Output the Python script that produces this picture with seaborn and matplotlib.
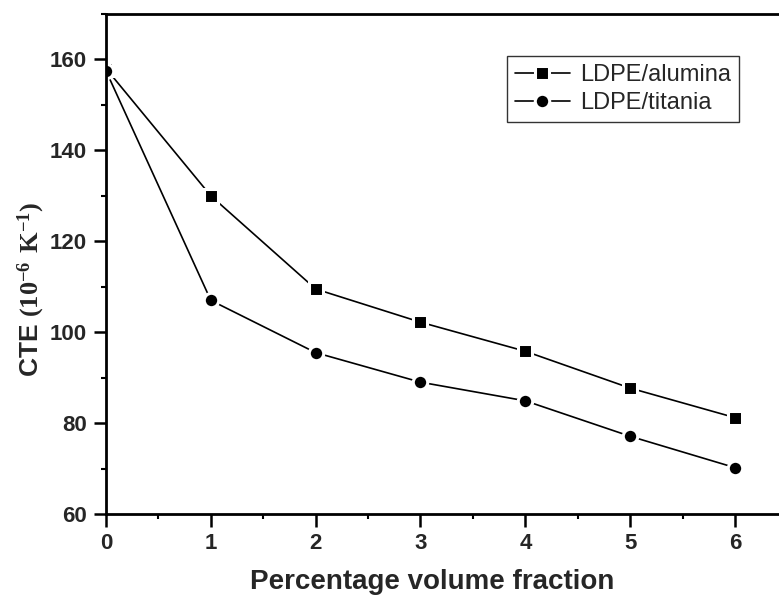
import matplotlib
matplotlib.use("Agg")
import matplotlib.pyplot as plt
from matplotlib.ticker import MultipleLocator
import pandas as pd
import seaborn as sns

# Thermal expansion of LDPE composites versus filler loading
volume_fraction = [0, 1, 2, 3, 4, 5, 6]
cte_alumina = [158.0, 130.0, 109.5, 102.2, 95.8, 87.7, 81.2]
cte_titania = [157.5, 107.0, 95.5, 89.0, 84.9, 77.1, 70.2]
series_names = ["LDPE/alumina", "LDPE/titania"]

df = pd.DataFrame({
    "fraction": volume_fraction * 2,
    "cte": cte_alumina + cte_titania,
    "series": [series_names[0]] * len(volume_fraction) + [series_names[1]] * len(volume_fraction),
})

sns.set_theme(style="ticks")
plt.rcParams["font.family"] = ["Liberation Sans", "DejaVu Sans"]
plt.rcParams["mathtext.fontset"] = "custom"
plt.rcParams["mathtext.rm"] = "Liberation Serif"
plt.rcParams["mathtext.bf"] = "Liberation Serif:bold"

fig = plt.figure(figsize=(7.79, 6.03), dpi=100)
ax = fig.add_axes([106 / 779, 1 - 514 / 603, 673 / 779, 500 / 603])

sns.lineplot(
    data=df, x="fraction", y="cte", hue="series", style="series",
    palette=["black", "black"], markers={series_names[0]: "s", series_names[1]: "o"},
    dashes=False, linewidth=1.2, markersize=9.4, markeredgewidth=2.2,
    markeredgecolor="white", ax=ax, legend=False,
)
lines = ax.get_lines()
lines[1].set_markersize(10.4)

ax.set_xlim(0, 6.42)
ax.set_ylim(60, 170)
ax.xaxis.set_major_locator(MultipleLocator(1))
ax.xaxis.set_minor_locator(MultipleLocator(0.5))
ax.yaxis.set_major_locator(MultipleLocator(20))
ax.yaxis.set_minor_locator(MultipleLocator(10))
ax.tick_params(which="major", direction="out", length=9, width=1.8, pad=5,
               labelsize=16, color="black")
ax.tick_params(which="minor", direction="out", length=3.5, width=1.5, color="black")
for lab in ax.get_xticklabels() + ax.get_yticklabels():
    lab.set_fontweight("bold")

for side in ["left", "bottom", "top"]:
    ax.spines[side].set_linewidth(2.0)
    ax.spines[side].set_color("black")
ax.spines["right"].set_visible(False)

ax.set_xlabel("Percentage volume fraction", fontsize=20, fontweight="bold")
ax.set_ylabel(r"CTE $\mathbf{(10^{-6}\ K^{-1})}$", fontsize=19, fontweight="bold")
ax.xaxis.set_label_coords(0.485, -0.11)
ax.yaxis.set_label_coords(-0.088, 0.45)

leg = ax.legend(lines[:2], series_names, loc="upper left",
                bbox_to_anchor=((507 - 106) / 673, (514 - 56) / 500),
                fontsize=17, frameon=True, fancybox=False, shadow=False,
                handlelength=2.3, handletextpad=0.45, borderpad=0.35,
                borderaxespad=0, labelspacing=0.25)
leg.get_frame().set_edgecolor("black")
leg.get_frame().set_linewidth(1.0)

fig.savefig("out.png", dpi=100)
